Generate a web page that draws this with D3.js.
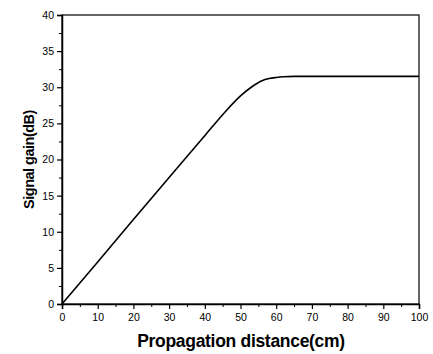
<!DOCTYPE html>
<html>
<head>
<meta charset="utf-8">
<script src="https://cdn.jsdelivr.net/npm/d3@7"></script>
<style>
  body { margin: 0; background: #fff; }
  text { font-family: "Liberation Sans", Arial, sans-serif; }
</style>
</head>
<body>
<div id="chart"></div>
<script>
// propagation distance (cm) and signal gain (dB)
const distance = [0, 10, 20, 30, 40, 45, 50, 53, 56, 58, 60, 62, 65, 70, 80, 90, 100];
const gain = [0, 5.8, 11.7, 17.5, 23.3, 26.2, 28.8, 30.0, 30.9, 31.2, 31.35, 31.45, 31.5, 31.5, 31.5, 31.5, 31.5];
const xTicks = [0, 10, 20, 30, 40, 50, 60, 70, 80, 90, 100];
const yTicks = [0, 5, 10, 15, 20, 25, 30, 35, 40];

const width = 433, height = 354;
const margin = { top: 15, right: 14, bottom: 50, left: 62 };

const svg = d3.select('#chart')
  .append('svg')
  .attr('width', width)
  .attr('height', height);

const x = d3.scaleLinear().domain([0, 100]).range([margin.left, width - margin.right]);
const y = d3.scaleLinear().domain([0, 40]).range([height - margin.bottom, margin.top]);

// frame
svg.append('rect')
  .attr('x', x(0)).attr('y', y(40))
  .attr('width', x(100) - x(0)).attr('height', y(0) - y(40))
  .attr('fill', 'none').attr('stroke', '#000').attr('stroke-width', 1.2);

// minor ticks
svg.append('g')
  .attr('transform', `translate(0,${y(0)})`)
  .call(d3.axisBottom(x).tickValues(d3.range(5, 100, 10)).tickSize(3).tickFormat(''))
  .call(g => g.select('.domain').remove());
svg.append('g')
  .attr('transform', `translate(${x(0)},0)`)
  .call(d3.axisLeft(y).tickValues(d3.range(2.5, 40, 5)).tickSize(3).tickFormat(''))
  .call(g => g.select('.domain').remove());

// major axes
const xAxis = svg.append('g')
  .attr('transform', `translate(0,${y(0)})`)
  .call(d3.axisBottom(x).tickValues(xTicks).tickSize(5).tickPadding(5));
const yAxis = svg.append('g')
  .attr('transform', `translate(${x(0)},0)`)
  .call(d3.axisLeft(y).tickValues(yTicks).tickSize(5).tickPadding(3));

[xAxis, yAxis].forEach(g => {
  g.select('.domain').attr('stroke-width', 1.5);
  g.selectAll('.tick line').attr('stroke-width', 1.2);
  g.selectAll('.tick text')
    .style('font-size', '10.5px')
    .style('font-family', '"Liberation Sans", Arial, sans-serif')
    .attr('fill', '#000');
});

// curve
svg.append('path')
  .datum(distance.map((d, i) => [d, gain[i]]))
  .attr('fill', 'none')
  .attr('stroke', '#000')
  .attr('stroke-width', 1.6)
  .attr('d', d3.line().x(d => x(d[0])).y(d => y(d[1])).curve(d3.curveMonotoneX));

// axis titles
svg.append('text')
  .attr('x', 241)
  .attr('y', 347)
  .attr('text-anchor', 'middle')
  .style('font-size', '17.5px')
  .style('font-weight', 'bold')
  .style('letter-spacing', '-0.3px')
  .text('Propagation distance(cm)');

svg.append('text')
  .attr('transform', `translate(34,${(y(0) + y(40)) / 2}) rotate(-90)`)
  .attr('text-anchor', 'middle')
  .style('font-size', '14.5px')
  .style('font-weight', 'bold')
  .style('letter-spacing', '-0.5px')
  .text('Signal gain(dB)');
</script>
</body>
</html>
